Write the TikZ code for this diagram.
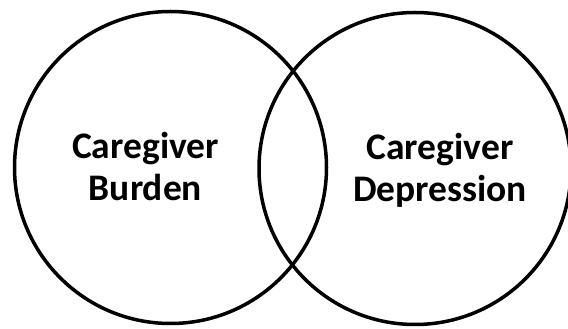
\documentclass[tikz,border=0pt]{standalone}
\usepackage{fontspec}
\setmainfont{Carlito}
\usepackage{tikz}

\begin{document}
\begin{tikzpicture}[x=1pt, y=1pt]
		\useasboundingbox (0,0) rectangle (568,329);

		\tikzset{
			setcircle/.style={draw, circle, line width=3.5pt, minimum size=312pt, inner sep=0pt},
			setlabel/.style={align=center, font=\bfseries\fontsize{37.5}{42}\selectfont}
		}

		% Circles
		\node[setcircle] (burdenset) at (170.5, 161.5) {};
		\node[setcircle] (depressionset) at (415, 160.5) {};

		% Labels
		\node[setlabel] (burden) at (145.5, 163) {Caregiver\\Burden};
		\node[setlabel] (depression) at (440, 158.5) {Caregiver\\Depression};

	\end{tikzpicture}
\end{document}
